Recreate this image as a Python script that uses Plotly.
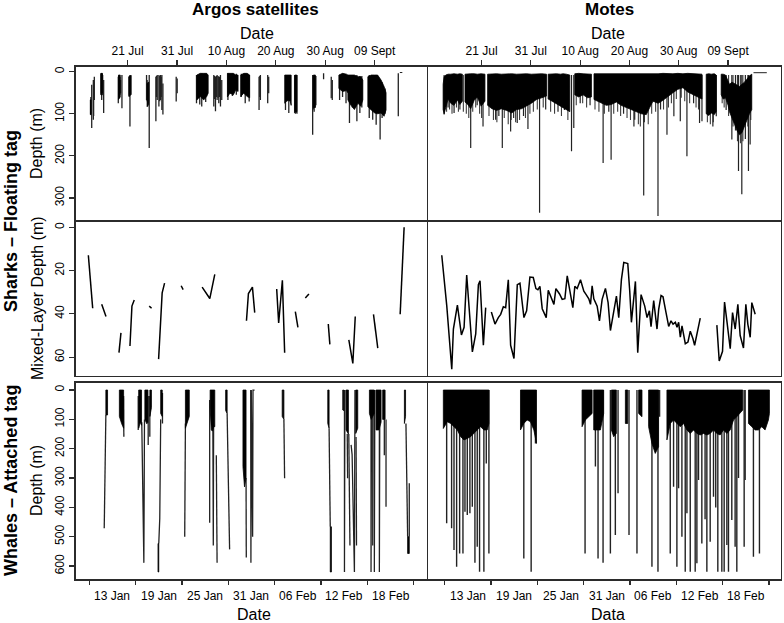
import plotly.graph_objects as go

W, H = 784, 623

# ---------------- axis tick data ----------------
top_tick_days = [20, 30, 40, 50, 60, 70]          # days since 1 Jul
top_tick_text = ['21 Jul', '31 Jul', '10 Aug', '20 Aug', '30 Aug', '09 Sept']
bot_tick_days = [7, 13, 19, 25, 31, 37, 43, 49]   # days since 31 Dec
bot_label_days = [10, 16, 22, 28, 34, 40, 46]
bot_label_text = ['13 Jan', '19 Jan', '25 Jan', '31 Jan', '06 Feb', '12 Feb', '18 Feb']
depth_ticks_top = [0, 100, 200, 300]
depth_ticks_mid = [0, 20, 40, 60]
depth_ticks_bot = [0, 100, 200, 300, 400, 500, 600]

# ---------------- A: sharks, Argos, dive depth ----------------
a_spk_t = [12.52, 12.56, 12.73, 13.06, 13.12, 13.26,
           14.61, 14.68, 14.75, 14.85, 14.95, 15.15,
           18.11, 18.2, 18.31, 18.45, 18.58, 18.85,
           20.27, 20.35, 20.47, 20.55, 20.67,
           23.83, 23.95, 24.04, 24.15, 24.37,
           25.72, 25.85, 25.99, 26.33, 26.5, 26.66, 26.8, 26.93, 27.14,
           29.83, 30.03,
           33.94, 34.6, 35.0, 35.8,
           37.44, 37.6, 37.78, 37.95, 38.11, 38.3, 38.45, 38.6, 38.79, 39.05,
           40.3, 41.2, 42.0,
           43.0, 43.8, 44.6,
           46.6, 46.75, 46.87,
           48.35, 48.55,
           51.95, 52.3, 52.62,
           53.8, 53.95, 54.1, 54.27,
           57.45, 57.6, 57.75, 57.9, 58.1,
           59.66,
           61.21, 61.42,
           62.9, 63.5, 64.2,
           64.9, 65.5, 66.4, 67.0, 67.4,
           68.9, 69.6, 70.3, 71.1, 71.5, 72.1,
           74.78]
a_spk_top = [67, 60, 31, 20, 25, 12,
             4, 6, 4, 5, 8, 20,
             12, 10, 8, 12, 20, 8,
             12, 10, 8, 8, 8,
             8, 20, 28, 25, 8,
             12, 10, 8, 8, 10, 8, 12, 8, 28,
             12, 16,
             8, 8, 5, 6,
             8, 10, 12, 10, 8, 10, 12, 12, 8, 20,
             4, 5, 5,
             5, 5, 8,
             12, 10, 8,
             8, 12,
             8, 8, 8,
             8, 8, 8, 8,
             8, 10, 8, 10, 10,
             4,
             12, 20,
             8, 5, 8,
             8, 8, 8, 10, 10,
             8, 8, 8, 20, 25, 40,
             4]
a_spk_bot = [102, 100, 134, 114, 105, 67,
             55, 50, 67, 45, 51, 98,
             75, 60, 63, 55, 51, 87,
             59, 55, 130, 50, 55,
             67, 70, 83, 75, 181,
             118, 60, 67, 83, 70, 67, 60, 91, 102,
             71, 51,
             75, 78, 83, 72,
             83, 65, 94, 60, 67, 62, 75, 60, 83, 67,
             67, 58, 55,
             60, 75, 71,
             91, 60, 67,
             75, 51,
             91, 70, 98,
             98, 100, 98, 100,
             150, 90, 95, 85, 80,
             18,
             63, 67,
             67, 60, 75,
             122, 85, 118, 98, 85,
             110, 114, 126, 161, 110, 100,
             106]
a_blk_t = [12.45, 12.6, None, 14.6, 14.9, None, 18.15, 18.5, None, 20.3, 20.65, None,
           23.95, 24.25, None, 34.0, 34.7, 35.4, 36.0, 36.3, None,
           40.2, 40.7, 41.4, 41.9, 42.35, None, 42.9, 43.5, 44.2, 44.7, None,
           51.8, 52.4, 52.9, 53.1, None, 53.85, 54.25, None, 57.6, 58.0, None,
           62.76, 63.5, 64.3, 64.58, None, 64.58, 65.2, 65.9, 66.6, 67.2, 67.6, None,
           68.62, 69.3, 70.0, 70.6, 71.3, 71.9, 72.3]
a_blk_top = [67, 67, None, 4, 4, None, 8, 8, None, 12, 10, None,
             28, 25, None, 8, 4, 4, 4, 8, None,
             4, 4, 4, 8, 8, None, 8, 4, 4, 8, None,
             8, 8, 8, 8, None, 8, 8, None, 8, 8, None,
             8, 4, 6, 8, None, 8, 8, 8, 12, 12, 20, None,
             12, 8, 8, 8, 20, 35, 50]
a_blk_bot = [102, 102, None, 55, 55, None, 66, 60, None, 59, 55, None,
             83, 78, None, 67, 59, 67, 59, 51, None,
             60, 51, 55, 43, 47, None, 59, 51, 59, 62, None,
             75, 67, 70, 80, None, 95, 95, None, 85, 85, None,
             40, 47, 45, 50, None, 67, 80, 90, 75, 82, 67, None,
             83, 91, 98, 100, 98, 106, 91]
a_path_t = [75.1, 75.6]
a_path_d = [2, 2]

# ---------------- B: sharks, Motes, dive depth ----------------
b_blk_t = [12.2, 12.4, 12.73, 13.2, 13.74, 14.4, 15.09, 15.6, 16.1, None,
           16.64, 17.2, 17.79, 18.5, 19.14, 19.9, 20.68, None,
           21.22, 22.1, 23.04, 24.0, 25.07, 26.1, 27.09, 28.1, 29.12, 30.1, 31.14, 32.2, 33.16, None,
           33.5, 34.3, 35.19, 36.0, 36.54, 37.2, 37.89, None,
           38.9, 39.7, 40.59, 41.5, 42.28, None,
           42.8, 43.29, 44.3, 45.31, 46.3, 47.34, 48.3, 49.36, 50.4, 51.39, 52.4, 53.41,
           54.1, 54.76, 55.8, 56.79, 57.8, 58.81, 59.8, 60.84, 61.8, 62.86, 63.9, 64.7, None,
           65.56, 66.1, 66.57, 67.2, 67.58, None,
           68.6, 69.0, 69.47, 70.0, 70.28, 70.8, 71.3, 71.8, 72.31, 72.8, 73.32, 73.8, 74.33, 74.8]
b_blk_top = [30, 12, 8, 6, 6, 5, 6, 5, 6, None,
             6, 5, 5, 5, 6, 5, 6, None,
             6, 5, 5, 6, 5, 5, 6, 5, 5, 6, 5, 5, 6, None,
             6, 5, 5, 6, 5, 6, 8, None,
             5, 4, 5, 5, 6, None,
             5, 5, 6, 5, 5, 6, 5, 5, 6, 5, 6, 5,
             6, 5, 5, 4, 5, 5, 4, 5, 4, 5, 5, 6, None,
             6, 5, 6, 5, 8, None,
             6, 6, 8, 20, 30, 25, 28, 32, 35, 30, 25, 18, 10, 6]
b_blk_bot = [90, 100, 85, 65, 75, 80, 67, 78, 70, None,
             72, 78, 88, 68, 60, 82, 70, None,
             80, 88, 92, 88, 92, 98, 90, 88, 82, 75, 66, 62, 58, None,
             65, 70, 75, 82, 85, 90, 95, None,
             55, 60, 55, 62, 60, None,
             66, 70, 75, 80, 78, 72, 80, 85, 90, 95, 100, 102,
             85, 70, 75, 68, 60, 50, 42, 38, 48, 55, 60, 65, None,
             100, 104, 98, 102, 95, None,
             55, 65, 62, 80, 95, 110, 125, 140, 150, 145, 130, 115, 100, 90]
# deepest individual dives
b_spk_t = [12.4, 13.2, 14.42, 15.6, 17.79, 19.1, 20.29, 22.85, 23.5, 24.2, 25.89, 26.5,
           27.23, 28.5, 29.4, 31.76, 33.0, 35.5, 36.8, 38.24, 38.7, 40.0, 42.0, 44.65,
           45.8, 46.27, 48.8, 50.9, 51.06, 52.88, 53.0, 55.78, 56.3, 57.6, 59.0, 60.3,
           61.65, 63.0, 64.21, 64.7, 66.91, 67.6, 69.6, 70.76, 71.5, 72.11, 72.78, 73.5,
           74.13, 74.47]
b_spk_bot = [102, 85, 98, 90, 181, 80, 130, 114, 105, 181, 142, 110,
             122, 105, 136, 335, 90, 95, 91, 189, 134, 75, 80, 217,
             95, 209, 100, 130, 114, 294, 120, 343, 90, 150, 106, 118,
             201, 75, 122, 118, 130, 106, 91, 161, 140, 236, 291, 160,
             236, 173]
# shorter dives just below the dense band
b_spk2_t = [12.9, 13.5, 14.0, 14.9, 15.3, 16.3, 16.9, 17.4, 18.2, 18.8, 19.6, 20.0,
            21.5, 22.4, 23.1, 24.6, 25.4, 26.0, 26.9, 27.7, 28.9, 29.8, 30.5, 31.3,
            32.5, 34.0, 34.8, 36.2, 37.5, 39.2, 40.5, 41.3, 43.0, 43.8, 44.9, 46.8,
            47.6, 48.2, 49.5, 50.2, 51.8, 52.2, 53.8, 54.5, 55.3, 56.9, 57.9, 58.5,
            59.5, 60.5, 61.2, 62.2, 63.5, 64.0, 65.8, 66.4, 67.0, 68.8, 69.2, 70.1,
            71.0, 71.9, 72.5, 73.0, 74.0, 74.6]
b_spk2_bot = [95, 90, 100, 85, 95, 95, 100, 110, 95, 85, 100, 110,
              105, 115, 120, 110, 125, 115, 120, 115, 110, 100, 95, 90,
              85, 95, 100, 105, 115, 80, 75, 85, 90, 95, 100, 100,
              95, 105, 110, 115, 125, 130, 125, 100, 95, 90, 85, 75,
              65, 62, 70, 75, 85, 90, 120, 125, 120, 75, 85, 105,
              130, 165, 170, 165, 130, 115]
b_path_t = [75.15, 77.85]
b_path_d = [2.4, 2.4]
surface_depth = 8

# ---------------- C: sharks, Argos, mixed-layer depth ----------------
c_t = [12.05, 12.93, None, 14.75, 15.62, None, 18.25, 18.65, None,
       20.47, 20.87, 21.34, None, 24.37, 24.85, None, 26.27, 26.99, 27.48, None,
       30.83, 31.24, None, 35.08, 36.03, 36.63, 37.64, None,
       44.05, 44.45, 45.26, 45.72, None, 50.17, 50.57, 51.32, 51.78, None,
       53.94, 54.47, None, 55.96, 56.69, None, 60.61, 60.93, None,
       64.77, 65.58, 66.07, None, 69.76, 70.63, None, 75.16, 75.96]
c_d = [12.9, 37.4, None, 35.6, 41.2, None, 57.9, 48.8, None,
       54.8, 36.4, 33.6, None, 36.4, 37.4, None, 60.9, 30.3, 25.8, None,
       27.0, 28.8, None, 27.6, 31.1, 32.9, 21.7, None,
       43.2, 30.6, 27.6, 39.4, None, 28.5, 44.2, 24.5, 58.0, None,
       38.9, 46.2, None, 32.7, 30.8, None, 44.7, 54.1, None,
       52.0, 62.9, 41.2, None, 40.2, 55.8, None, 40.2, 0.0]

# ---------------- D: sharks, Motes, mixed-layer depth ----------------
d_t = [11.92, 12.94, 13.95, 14.28, 15.09, 15.91, 16.45, 16.98, 18.13, 18.81, 19.35, 19.68, 20.36, 20.83, None,
       21.98, 22.72, 23.39, 23.87, 24.41, 24.88, 25.42, 25.89, 26.57, 27.24,
       27.78, 28.59, 29.13, 29.8, 30.48, 31.02, 31.42, 31.83, 32.3, 33.11,
       33.52, 34.19, 34.67, 35.07, 35.81, 36.35, 36.89, 37.37, 38.04, 38.51,
       38.91, 39.39, 40.06, 40.74, 41.21, 41.75, 42.09, 42.42, 42.76, 43.44,
       43.91, 44.45, 45.12, 45.66, 46.13, 46.81, 47.35, 47.82, 48.36, 48.84,
       49.65, 50.05, 50.39, 51.2, 51.67, 52.35, 53.09, 53.56, 54.04, 54.37,
       54.91, 55.58, 55.92, 56.4, 56.8, 57.41, 57.95, 58.42, 58.83, 59.3,
       59.64, 59.97, 60.31, 60.65, 61.32, 61.86, 62.33, 62.87, 63.21, 64.35, None,
       67.72, 68.2, 68.87, 69.28, 69.75, 70.43, 70.9, 71.44, 71.98, 72.45,
       73.12, 73.6, 74.0, 74.48, 74.81, 75.15, 75.49]
d_d = [12.9, 36.4, 65.6, 47.0, 35.9, 49.7, 46.2, 22.0, 57.6, 49.2, 26.5, 24.7, 54.5, 37.1, None,
       39.1, 44.7, 41.7, 40.2, 36.7, 37.1, 24.2, 54.5, 60.6, 26.5,
       25.8, 41.7, 38.6, 23.0, 23.2, 28.3, 28.8, 27.3, 37.6, 41.7,
       29.1, 32.6, 35.6, 28.3, 30.8, 33.3, 33.0, 22.4, 31.1, 37.1,
       27.3, 28.3, 24.2, 29.5, 31.1, 33.0, 35.6, 27.0, 33.0, 36.4,
       43.2, 33.3, 28.2, 34.8, 47.7, 38.6, 31.8, 41.8, 24.2, 16.2,
       16.7, 29.5, 43.9, 25.0, 57.9, 31.1, 36.4, 41.7, 38.6, 45.9,
       33.8, 47.0, 37.9, 31.5, 32.1, 39.4, 45.8, 43.2, 44.7, 43.9,
       46.2, 43.9, 50.8, 45.5, 53.8, 53.0, 48.0, 51.5, 54.5, 42.0, None,
       45.2, 61.8, 57.3, 34.5, 43.2, 56.1, 39.4, 47.0, 35.6, 50.0,
       55.8, 35.6, 44.7, 50.8, 34.8, 37.1, 40.2]

# ---------------- E: whales, Argos, dive depth ----------------
e_blk_t = [9.15, 9.37, None, 10.9, 11.2, 11.45, None, 13.4, 13.6, 13.77, None,
           14.2, 14.45, 14.6, None, 14.85, 15.05, None, 15.9, 16.0, None, 16.25, 16.45, None,
           19.45, 19.7, 19.95, None, 22.65, 22.8, 22.95, 23.1, 23.25, None, 24.66, 24.85, None,
           26.9, 27.1, 27.3, None, 31.98, 32.2, None, 37.88, 38.05, None, 38.2, 38.35, None,
           39.82, 39.95, None, 40.25, 40.55, None, 41.5, 41.76, None,
           43.27, 43.5, 43.9, None, 44.13, 44.5, 44.78, None, 44.99, 45.3, None,
           47.8, 47.95, None, 48.22, 48.43]
e_blk_top = [0, 0, None, 0, 0, 0, None, 0, 0, 0, None,
             0, 0, 0, None, 0, 0, None, 523, 523, None, 0, 0, None,
             0, 0, 0, None, 0, 0, 0, 0, 0, None, 0, 0, None,
             0, 0, 0, None, 0, 0, None, 0, 0, None, 466, 466, None,
             0, 0, None, 0, 0, None, 0, 0, None,
             0, 0, 0, None, 0, 0, 0, None, 0, 0, None,
             0, 0, None, 500, 500]
e_blk_bot = [85, 85, None, 90, 115, 130, None, 130, 110, 120, None,
             100, 115, 110, None, 90, 60, None, 620, 620, None, 80, 90, None,
             130, 115, 90, None, 60, 136, 140, 125, 125, None, 70, 80, None,
             261, 330, 300, None, 90, 100, None, 114, 130, None, 620, 620, None,
             68, 70, None, 136, 150, None, 148, 130, None,
             80, 100, 80, None, 136, 136, 110, None, 100, 100, None,
             114, 90, None, 557, 557]
e_path_t = [8.94, 9.07, 9.15, None, 11.45, 11.48, None, 13.34, 13.34, None,
            13.8, 14.07, 14.15, None, 14.63, 14.63, None, 14.84, 14.84, None,
            16.0, 16.13, 16.25, None, 16.48, 16.48, None, 19.36, 19.45, None,
            22.59, 22.59, None, 23.0, 23.06, 23.1, None, 23.45, 23.55, None,
            24.85, 25.17, None, 27.3, 27.33, None, 27.9, 27.93, 27.98, 28.15, 28.2, 28.4, None,
            32.2, 32.29, None, 38.05, 38.2, None, 40.04, 40.04, 40.1, None,
            40.4, 40.45, None, 40.6, 40.75, None, 40.9, 41.03, 41.33, 41.4, None,
            41.54, 41.6, None, 43.48, 43.48, 43.55, None, 43.7, 43.7, 43.75, None,
            43.91, 43.91, 43.97, None, 44.56, 44.56, 44.62, None, 45.2, 45.2, None,
            45.42, 45.42, None, 48.0, 48.22, None, 48.43, 48.43]
e_path_d = [471, 176, 85, None, 20, 159, None, 20, 136, None,
            110, 589, 100, None, 20, 187, None, 20, 159, None,
            523, 437, 100, None, 10, 114, None, 500, 114, None,
            34, 452, None, 100, 530, 120, None, 222, 589, None,
            80, 543, None, 300, 571, None, 0, 589, 0, 500, 0, 0, None,
            100, 301, None, 130, 466, None, 0, 620, 0, None,
            150, 301, None, 150, 530, None, 187, 220, 620, 0, None,
            160, 530, None, 0, 620, 0, None, 0, 530, 0, None,
            0, 620, 0, None, 0, 620, 0, None, 100, 222, None,
            100, 398, None, 114, 500, None, 318, 500]

# ---------------- F: whales, Motes, dive depth ----------------
f_blk_t = [6.83, 7.34, 7.78, 8.21, 8.64, 9.07, 9.5, 9.93, 10.36, 10.79, 11.22, 11.65, 12.08, 12.51, 12.73, None,
           16.82, 17.25, 17.68, 18.11, 18.55, 18.89, None,
           24.79, 25.22, 25.66, 26.09, None, 26.3, 26.73, 27.16, 27.59, None,
           28.59, 28.89, 29.23, None, 30.4, 30.7, None, 32.12, 32.55, None,
           33.41, 33.84, 34.27, 34.7, None,
           35.78, 36.21, 36.64, 37.07, 37.5, 37.93, 38.37, 38.8, 39.23, 39.66, 40.09, 40.52,
           40.95, 41.38, 41.81, 42.24, 42.67, 43.1, 43.54, 43.97, 44.4, 44.83, 45.26, 45.6, None,
           46.34, 46.77, 47.2, 47.63, 48.06, 48.49, 48.92, 49.05]
f_blk_bot = [131, 108, 114, 125, 136, 159, 170, 165, 159, 148, 136, 125, 136, 136, 114, None,
             136, 114, 102, 108, 136, 182, None,
             125, 102, 91, 80, None, 136, 136, 136, 80, None,
             136, 159, 148, None, 114, 114, None, 80, 91, None,
             125, 182, 216, 193, None,
             170, 114, 102, 114, 125, 114, 136, 148, 136, 148, 153, 148,
             153, 148, 136, 148, 153, 136, 148, 136, 102, 91, 80, 68, None,
             114, 125, 136, 136, 125, 136, 102, 80]
f_spk_t = [7.26, 7.9, 8.21, 8.55, 8.94, 9.37, 9.63, 9.93, 10.27, 10.58, 10.92, 11.22, 11.52, 12.08, 12.39, 12.73,
           17.25, 18.2, 18.76, 25.18, 26.52, 26.86, 27.51, 28.46, 29.1, 29.45, 30.87, 31.9,
           33.84, 34.62, 34.83,
           36.21, 36.64, 37.07, 37.29, 37.72, 38.15, 38.37, 38.8, 39.44, 39.66,
           39.87, 40.3, 40.72, 40.95, 41.38, 41.81, 42.1, 42.37, 42.89, 43.19,
           43.54, 43.75, 44.18, 44.61, 44.83, 45.05, 45.78, 45.91, 46.98, 47.76]
f_spk_bot = [454, 471, 545, 602, 557, 557, 415, 426, 420, 398, 589, 534, 619, 619, 250, 557,
             574, 619, 182, 557, 261, 574, 589, 557, 494, 352, 494, 557,
             602, 619, 91,
             557, 330, 602, 335, 500, 619, 420, 619, 619, 590,
             307, 523, 440, 619, 517, 364, 400, 619, 619, 619,
             528, 619, 443, 534, 619, 300, 534, 307, 568, 557]


# ---------------- helpers ----------------
def polys(t, top, bot):
    xs, ys = [], []
    st, sa, sb = [], [], []
    for a, b, c in zip(list(t) + [None], list(top) + [None], list(bot) + [None]):
        if a is None:
            if st:
                xs += st + st[::-1] + [st[0], None]
                ys += sa + sb[::-1] + [sa[0], None]
            st, sa, sb = [], [], []
        else:
            st.append(a); sa.append(b); sb.append(c)
    return xs, ys


def vsegs(t, top, bot):
    xs, ys = [], []
    for a, b, c in zip(t, top, bot):
        xs += [a, a, None]
        ys += [b, c, None]
    return xs, ys


fig = go.Figure()
INK = 'black'
SPK = '#222222'
SPK_LIGHT = '#3c3c3c'


def add_block(t, top, bot, xa, ya):
    x, y = polys(t, top, bot)
    fig.add_trace(go.Scatter(x=x, y=y, mode='lines', fill='toself', fillcolor=INK,
                             line=dict(color=INK, width=0.8), xaxis=xa, yaxis=ya,
                             hoverinfo='skip', showlegend=False))


def add_lines(x, y, xa, ya, width=1.2, color=SPK):
    fig.add_trace(go.Scatter(x=x, y=y, mode='lines', line=dict(color=color, width=width),
                             connectgaps=False, xaxis=xa, yaxis=ya,
                             hoverinfo='skip', showlegend=False))


# A  (individual dives first, dense bands drawn over them)
x, y = vsegs(a_spk_t, a_spk_top, a_spk_bot)
add_lines(x, y, 'x', 'y', 1.3)
add_block(a_blk_t, a_blk_top, a_blk_bot, 'x', 'y')
add_lines(a_path_t, a_path_d, 'x', 'y', 1.0)
# B
x, y = vsegs(b_spk2_t, [surface_depth] * len(b_spk2_t), b_spk2_bot)
add_lines(x, y, 'x2', 'y2', 1.1, SPK_LIGHT)
x, y = vsegs(b_spk_t, [surface_depth] * len(b_spk_t), b_spk_bot)
add_lines(x, y, 'x2', 'y2', 1.2)
add_block(b_blk_t, b_blk_top, b_blk_bot, 'x2', 'y2')
add_lines(b_path_t, b_path_d, 'x2', 'y2', 1.0)
# C, D
add_lines(c_t, c_d, 'x3', 'y3', 1.5, INK)
add_lines(d_t, d_d, 'x4', 'y4', 1.5, INK)
# E
add_lines(e_path_t, e_path_d, 'x5', 'y5', 1.3)
add_block(e_blk_t, e_blk_top, e_blk_bot, 'x5', 'y5')
# F
x, y = vsegs(f_spk_t, [0] * len(f_spk_t), f_spk_bot)
add_lines(x, y, 'x6', 'y6', 1.4)
add_block(f_blk_t, [0] * len(f_blk_t), f_blk_bot, 'x6', 'y6')


# ---------------- layout ----------------
def px_x(p):
    return p / W


def px_y(p):
    return 1 - p / H


LW = 1.4
XL = [px_x(75.5), px_x(427.5 - LW / 2)]
XR = [px_x(427.5 + LW / 2), px_x(781)]
YT = [px_y(221 - LW / 2), px_y(66.5)]
YM = [px_y(376), px_y(221 + LW / 2)]
YB = [px_y(579.3), px_y(382.7)]

LINE = '#2b2b2b'
FONT = 'Liberation Sans, Arial, sans-serif'
base = dict(showline=True, linecolor=LINE, linewidth=LW, mirror=True, showgrid=False,
            zeroline=False, tickcolor=LINE, tickwidth=1.2, tickfont=dict(size=12, color='black'))


def xax(domain, rng, anchor, kind):
    d = dict(base, domain=domain, range=rng, anchor=anchor)
    if kind == 'top':
        d.update(side='top', tickmode='array', tickvals=top_tick_days, ticktext=top_tick_text,
                 ticks='outside', ticklen=5)
    elif kind == 'bot':
        d.update(side='bottom', tickmode='array', tickvals=bot_tick_days,
                 ticktext=[''] * len(bot_tick_days), ticks='outside', ticklen=4)
    else:
        d.update(showticklabels=False, ticks='')
    return d


def yax(domain, rng, anchor, ticks):
    d = dict(base, domain=domain, range=rng, anchor=anchor)
    if ticks is None:
        d.update(showticklabels=False, ticks='')
    else:
        d.update(tickmode='array', tickvals=ticks, ticktext=[str(v) for v in ticks],
                 ticks='outside', ticklen=5, tickangle=-90)
    return d


layout = dict(
    width=W, height=H, autosize=False,
    margin=dict(l=0, r=0, t=0, b=0),
    paper_bgcolor='white', plot_bgcolor='white',
    font=dict(family=FONT, color='black'),
    hovermode=False,
    xaxis=xax(XL, [9.45, 80.55], 'y', 'top'),
    yaxis=yax(YT, [353, -12.3], 'x', depth_ticks_top),
    xaxis2=xax(XR, [9.17, 80.73], 'y2', 'top'),
    yaxis2=yax(YT, [353, -12.3], 'x2', None),
    xaxis3=xax(XL, [9.45, 80.55], 'y3', 'none'),
    yaxis3=yax(YM, [68.7, -2.6], 'x3', depth_ticks_mid),
    xaxis4=xax(XR, [9.17, 80.73], 'y4', 'none'),
    yaxis4=yax(YM, [68.7, -2.6], 'x4', None),
    xaxis5=xax(XL, [5.22, 50.7], 'y5', 'bot'),
    yaxis5=yax(YB, [645, -25], 'x5', depth_ticks_bot),
    xaxis6=xax(XR, [4.87, 50.55], 'y6', 'bot'),
    yaxis6=yax(YB, [645, -25], 'x6', None),
)
fig.update_layout(**layout)

ann = []


def txt(s, x, y, size, angle=0):
    ann.append(dict(text=s, x=px_x(x), y=px_y(y), xref='paper', yref='paper',
                    showarrow=False, xanchor='center', yanchor='middle', textangle=angle,
                    font=dict(size=size, color='black', family=FONT)))


txt('<b>Argos satellites</b>', 256, 10, 17)
txt('<b>Motes</b>', 609, 10, 17)
txt('Date', 257, 33, 16)
txt('Date', 608, 33, 16)
txt('Date', 254, 614, 16)
txt('Data', 608, 614, 16)
txt('Depth (m)', 36, 144, 16, -90)
txt('Mixed-Layer Depth (m)', 37, 298, 16, -90)
txt('Depth (m)', 36, 481, 16, -90)
txt('<b>Sharks – Floating tag</b>', 11, 221, 18, -90)
txt('<b>Whales – Attached tag</b>', 11, 481, 18, -90)

for xr in ('x5', 'x6'):
    for d, s in zip(bot_label_days, bot_label_text):
        ann.append(dict(text=s, x=d, y=px_y(596), xref=xr, yref='paper', showarrow=False,
                        xanchor='center', yanchor='middle',
                        font=dict(size=12, color='black', family=FONT)))

fig.update_layout(annotations=ann)
fig.write_html('out.html', config={'displayModeBar': False, 'staticPlot': True},
               post_script="document.body.style.margin='0px';")
